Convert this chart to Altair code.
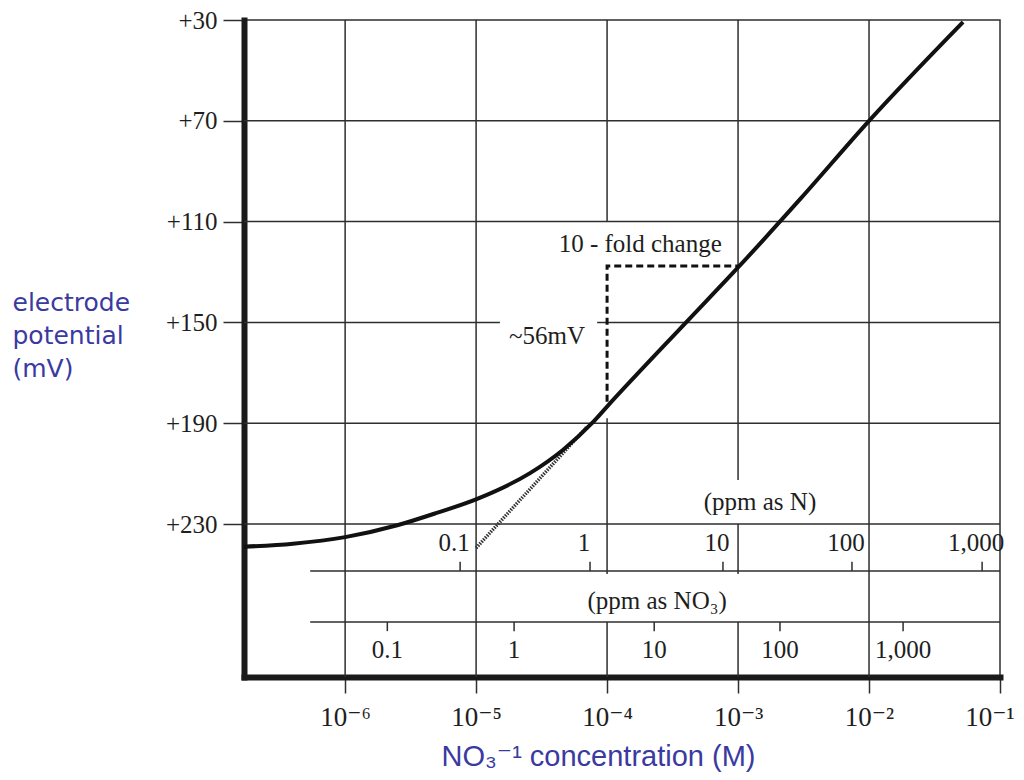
import altair as alt
import pandas as pd

# ---------------- data ----------------
# main electrode response curve: concentration (M) vs potential (mV)
curve_conc = [1.69e-7, 4e-7, 1e-6, 2.5e-6, 5e-6, 1.02e-5, 2.58e-5, 4.6e-5,
              7.7e-5, 1e-4, 4.08e-4, 1e-3, 3e-3, 1e-2, 5.22e-2]
curve_mv = [239.0, 237.8, 235.2, 230.5, 225.6, 220.0, 209.8, 200.6,
            189.9, 183.4, 149.6, 128.2, 100.9, 70.0, 30.8]

# dotted Nernstian extrapolation
dotted_conc = [1e-5, 7e-5]
dotted_mv = [239.5, 191.5]

# dashed "10-fold change / ~56mV" construction
dashed_conc = [1e-4, 1e-4, 1e-3]
dashed_mv = [181.5, 127.6, 127.6]

# main axes
x_ticks = [1e-6, 1e-5, 1e-4, 1e-3, 1e-2, 1e-1]
x_tick_labels = ["10\u207b\u2076", "10\u207b\u2075", "10\u207b\u2074",
                 "10\u207b\u00b3", "10\u207b\u00b2", "10\u207b\u00b9"]
y_ticks = [30, 70, 110, 150, 190, 230]

# secondary scales (positions in M)
n_ticks = [7.55e-6, 7.41e-5, 7.67e-4, 7.41e-3, 7.3e-2]
n_labels = ["0.1", "1", "10", "100", "1,000"]
no3_ticks = [2.1e-6, 1.95e-5, 2.29e-4, 2.09e-3, 1.82e-2]
no3_labels = ["0.1", "1", "10", "100", "1,000"]

# annotations
ann_text = ["10 - fold change", "~56mV", "(ppm as N)", "(ppm as NO\u2083)"]
ann_conc = [1.79e-4, 3.48e-5, 1.47e-3, 2.41e-4]
ann_mv = [118.9, 155.4, 221.3, 260.5]

# ---------------- layout constants (data units) ----------------
X_MIN, X_MAX = 1.69e-7, 1e-1
Y_TOP, Y_BOT = 30, 290.7
N_AXIS_Y, NO3_AXIS_Y = 248.6, 268.9
SEC_AXIS_START = 5.41e-7

BLUE = "#3a3aa0"
INK = "#1e1e1e"
GRID = "#2e2e2e"
SERIF = "Liberation Serif, DejaVu Serif, serif"

xs = alt.Scale(type="log", domain=[X_MIN, X_MAX], nice=False)
ys = alt.Scale(domain=[Y_TOP, Y_BOT], reverse=True, nice=False, zero=False)

label_expr = " : ".join(
    f"datum.value < {t * 3.1623:.3g} ? '{lab}'" for t, lab in zip(x_ticks[:-1], x_tick_labels[:-1])
) + f" : '{x_tick_labels[-1]}'"

x_axis = alt.Axis(
    values=x_ticks, labelExpr=label_expr, grid=False,
    labelFont=SERIF, labelFontSize=27, labelColor=INK,
    tickSize=16, tickWidth=1.5, tickColor=GRID, labelPadding=11,
    domainWidth=6, domainColor="#1a1a1a", domainCap="square",
    labelFlush=True, labelFlushOffset=14, labelOverlap=False,
    title="NO\u2083\u207b\u00b9 concentration (M)",
    titleFont="Liberation Sans, DejaVu Sans, sans-serif", titleFontSize=29,
    titleFontWeight="normal", titleColor=BLUE,
    titleX=354, titleY=88, titleAlign="center", titleBaseline="alphabetic")
y_axis = alt.Axis(
    values=y_ticks, labelExpr="'+' + datum.value", grid=False,
    labelFont=SERIF, labelFontSize=25, labelColor=INK,
    tickSize=21, tickWidth=1.5, tickColor=GRID, labelPadding=6,
    domainWidth=6, domainColor="#1a1a1a", domainCap="square",
    labelFlush=False, labelOverlap=False,
    title=["electrode", "potential", "(mV)"],
    titleFont="DejaVu Sans", titleFontSize=25, titleFontWeight="normal",
    titleColor=BLUE, titleAngle=0, titleAlign="left",
    titleBaseline="alphabetic", titleX=-232, titleY=290, titleLineHeight=33)


def X(field):
    return alt.X(field, scale=xs, axis=x_axis)


def Y(field):
    return alt.Y(field, scale=ys, axis=y_axis)


# grid segments (gaps where the reference leaves room for annotations)
grid_v = pd.DataFrame({
    "x": [1e-6, 1e-5, 1e-4, 1e-4, 1e-4, 1e-3, 1e-3, 1e-3, 1e-2],
    "y1": [Y_TOP, Y_TOP, Y_TOP, 188.0, NO3_AXIS_Y, Y_TOP, 230, NO3_AXIS_Y, Y_TOP],
    "y2": [Y_BOT, Y_BOT, 110.2, 249.8, Y_BOT, 212.5, 249.8, Y_BOT, Y_BOT],
})
grid_h = pd.DataFrame({
    "y": [70, 110, 150, 150, 190, 230],
    "x1": [X_MIN, X_MIN, X_MIN, 8.4e-5, X_MIN, X_MIN],
    "x2": [X_MAX, X_MAX, 1.52e-5, X_MAX, X_MAX, X_MAX],
})

vgrid = alt.Chart(grid_v).mark_rule(color=GRID, strokeWidth=1.5).encode(
    x=X("x:Q"), y=Y("y1:Q"), y2="y2:Q",
)
hgrid = alt.Chart(grid_h).mark_rule(color=GRID, strokeWidth=1.5).encode(
    x=X("x1:Q"), x2="x2:Q", y=Y("y:Q"),
)

sec_axes = pd.DataFrame({"y": [N_AXIS_Y, NO3_AXIS_Y],
                         "x1": [SEC_AXIS_START] * 2, "x2": [X_MAX] * 2})
sec_lines = alt.Chart(sec_axes).mark_rule(color=GRID, strokeWidth=1.5).encode(
    x=X("x1:Q"), x2="x2:Q", y=Y("y:Q"),
)

n_df = pd.DataFrame({"x": n_ticks, "label": n_labels})
no3_df = pd.DataFrame({"x": no3_ticks, "label": no3_labels})

n_tick_marks = alt.Chart(n_df).mark_rule(color=GRID, strokeWidth=1.5).encode(
    x=X("x:Q"), y=Y("y1:Q"), y2="y2:Q",
).transform_calculate(y1=str(N_AXIS_Y), y2=str(N_AXIS_Y - 3.6))
no3_tick_marks = alt.Chart(no3_df).mark_rule(color=GRID, strokeWidth=1.5).encode(
    x=X("x:Q"), y=Y("y1:Q"), y2="y2:Q",
).transform_calculate(y1=str(NO3_AXIS_Y), y2=str(NO3_AXIS_Y + 3.6))

n_text = alt.Chart(n_df).mark_text(font=SERIF, fontSize=25, color=INK,
                                   align="center", baseline="middle", dx=-6).encode(
    x=X("x:Q"), y=Y("y:Q"), text="label:N",
).transform_calculate(y="237.5")
no3_text = alt.Chart(no3_df).mark_text(font=SERIF, fontSize=25, color=INK,
                                       align="center", baseline="middle").encode(
    x=X("x:Q"), y=Y("y:Q"), text="label:N",
).transform_calculate(y="280")

dashed = alt.Chart(pd.DataFrame({"x": dashed_conc, "y": dashed_mv,
                                 "o": list(range(len(dashed_conc)))})).mark_line(
    color="#111", strokeWidth=3, strokeDash=[7, 4]).encode(
    x=X("x:Q"), y=Y("y:Q"), order="o:Q",
)
dotted = alt.Chart(pd.DataFrame({"x": dotted_conc, "y": dotted_mv})).mark_line(
    color="#333", strokeWidth=3.5, strokeDash=[1.5, 1.2]).encode(
    x=X("x:Q"), y=Y("y:Q"),
)

curve = alt.Chart(pd.DataFrame({"x": curve_conc, "y": curve_mv})).mark_line(
    color="#111", strokeWidth=4, interpolate="monotone").encode(
    x=X("x:Q"), y=Y("y:Q"),
)

ann = alt.Chart(pd.DataFrame({"x": ann_conc, "y": ann_mv, "t": ann_text})).mark_text(
    font=SERIF, fontSize=25, color=INK, align="center", baseline="middle").encode(
    x=X("x:Q"), y=Y("y:Q"), text="t:N",
)

chart = alt.layer(
    vgrid, hgrid, sec_lines, n_tick_marks, no3_tick_marks,
    dashed, dotted, curve, n_text, no3_text, ann,
).properties(
    width=756, height=657,
    autosize=alt.AutoSizeParams(type="none"),
    padding={"left": 236, "top": 12, "right": 16, "bottom": 95},
    background="white",
).configure_view(stroke=GRID, strokeWidth=1.5)

chart.save("out.html", embed_options={"renderer": "svg", "actions": False})
